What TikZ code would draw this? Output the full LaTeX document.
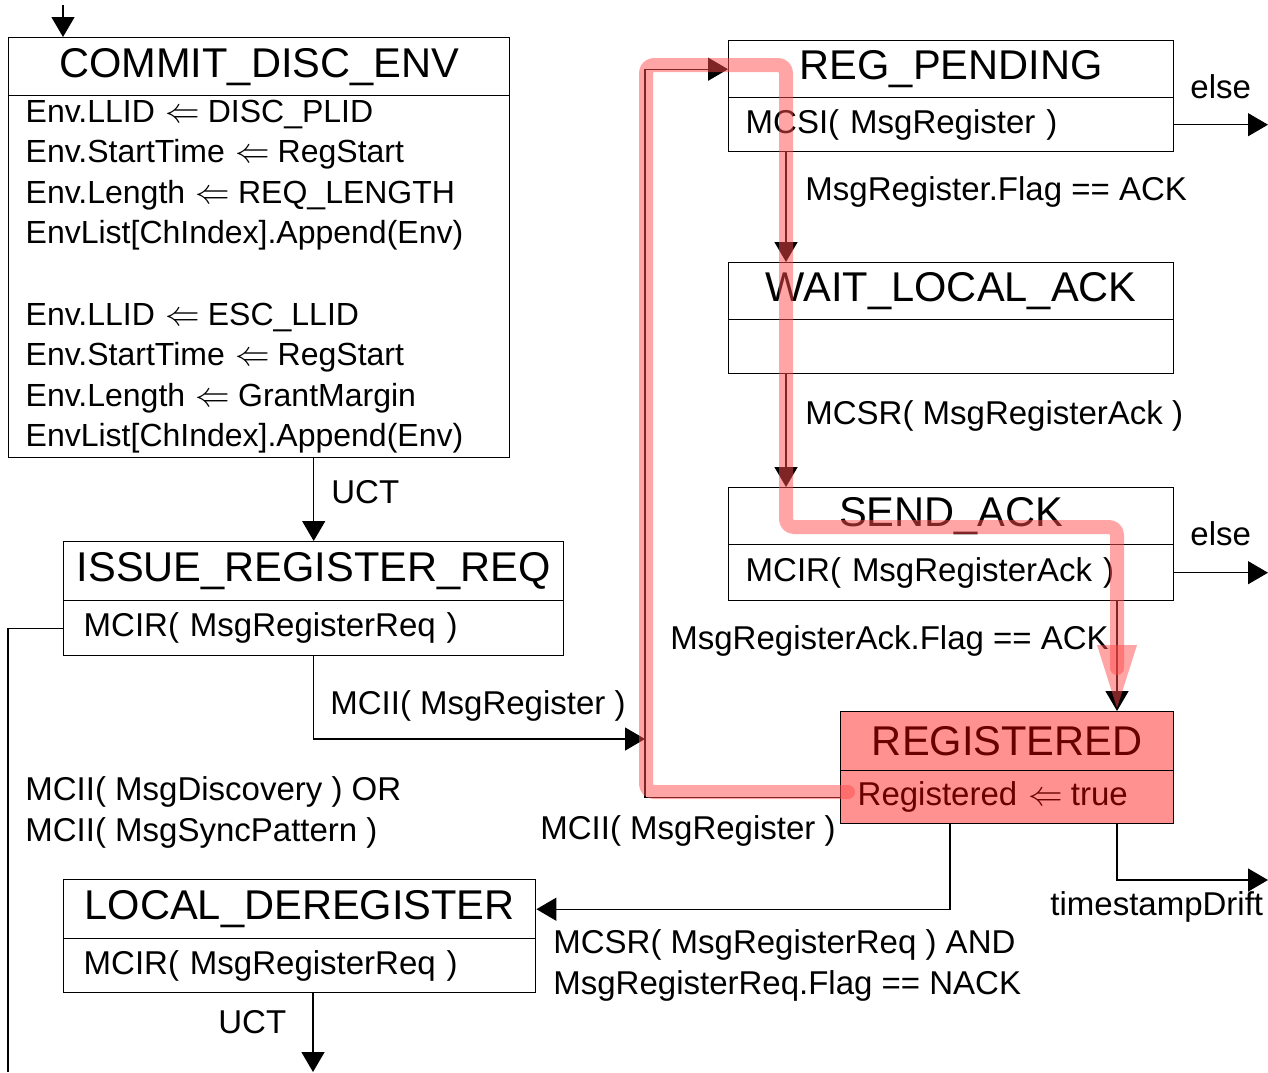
\documentclass[tikz,border=0pt]{standalone}
\usepackage{fontspec}
\setmainfont{Liberation Sans}
\usetikzlibrary{arrows.meta}
\definecolor{regfill}{RGB}{255,145,145}
\definecolor{regtext}{RGB}{105,0,0}
\definecolor{hlcol}{RGB}{255,75,75}
\begin{document}
\begin{tikzpicture}[x=0.5pt,y=-0.5pt,
  ttl/.style={draw, line width=0.7pt, anchor=north west, inner sep=0pt, font=\fontsize{20.8}{24}\selectfont},
  bdy/.style={draw, line width=0.7pt, anchor=north west, inner xsep=8.5pt, inner ysep=0pt, align=left, font=\fontsize{16.5}{20.3}\selectfont},
  lbl/.style={anchor=base west, inner sep=0pt, font=\fontsize{16.5}{20.3}\selectfont},
  arr/.style={line width=0.7pt, -{Triangle[length=10pt,width=11.5pt]}},
  ln/.style={line width=0.7pt},
  hl/.style={line width=7pt, draw=hlcol, opacity=0.5, rounded corners=4pt, line cap=round, line join=round}]
\useasboundingbox (0,0) rectangle (1268,1072);

% states
\node[ttl, minimum width=250.5pt, minimum height=29pt] (cdeT) at (8,37) {COMMIT\_DISC\_ENV};
\node[bdy, font=\fontsize{16}{20.3}\selectfont, text width=233.5pt, minimum height=181pt] (cdeB) at (8,95) {Env.LLID $\Leftarrow$\hspace{-1.5pt} DISC\_PLID\\
Env.StartTime $\Leftarrow$\hspace{-1.5pt} RegStart\\
Env.Length $\Leftarrow$\hspace{-1.5pt} REQ\_LENGTH\\
EnvList[ChIndex].Append(Env)\\[20.3pt]
Env.LLID $\Leftarrow$\hspace{-1.5pt} ESC\_LLID\\
Env.StartTime $\Leftarrow$\hspace{-1.5pt} RegStart\\
Env.Length $\Leftarrow$\hspace{-1.5pt} GrantMargin\\
EnvList[ChIndex].Append(Env)};

\node[ttl, minimum width=250pt, minimum height=29.5pt] (isT) at (63,541) {ISSUE\_REGISTER\_REQ};
\node[bdy, inner xsep=10pt, text width=230pt, minimum height=27.5pt] (isB) at (63,600) {MCIR( MsgRegisterReq )};

\node[ttl, minimum width=222.5pt, minimum height=28.5pt] (rpT) at (728,40) {REG\_PENDING};
\node[bdy, text width=205.5pt, minimum height=27pt] (rpB) at (728,97) {MCSI( MsgRegister )};

\node[ttl, minimum width=222.5pt, minimum height=28.5pt] (wlT) at (728,262) {WAIT\_LOCAL\_ACK};
\node[bdy, text width=205.5pt, minimum height=27pt] (wlB) at (728,319) {};

\node[ttl, minimum width=222.5pt, minimum height=28.5pt] (saT) at (728,487) {SEND\_ACK};
\node[bdy, text width=205.5pt, minimum height=28pt] (saB) at (728,544) {MCIR( MsgRegisterAck )};

\node[ttl, fill=regfill, text=regtext, minimum width=166.5pt, minimum height=29.5pt] (rgT) at (840,711) {REGISTERED};
\node[bdy, fill=regfill, text=regtext, text width=149.5pt, minimum height=26.5pt] (rgB) at (840,770) {Registered $\Leftarrow$\hspace{-1.5pt} true};

\node[ttl, minimum width=236pt, minimum height=29.5pt] (ldT) at (63,879) {LOCAL\_DEREGISTER};
\node[bdy, inner xsep=10pt, text width=216pt, minimum height=27pt] (ldB) at (63,938) {MCIR( MsgRegisterReq )};

% helper coordinates
\coordinate (start) at (63,5);
\coordinate (loopx) at (645,739);
\coordinate (colA) at (786,0);
\coordinate (colB) at (1117,0);
\coordinate (colC) at (950,0);
\coordinate (eA) at (1268,121);
\coordinate (eB) at (1268,572);
\coordinate (eC) at (1268,880);
\coordinate (eD) at (8,1072);
\coordinate (eE) at (313,1072);

% connectors
\draw[arr] (start) -- (start |- cdeT.north);
\draw[arr] (cdeB.south -| isT.north) -- (isT.north);
\draw[arr] (isB.south) |- (loopx);
\draw[arr] (rgB.west) -| (loopx) |- (rpT.west);
\draw[arr] (rpB.south -| colA) -- (wlT.north -| colA);
\draw[arr] (wlB.south -| colA) -- (saT.north -| colA);
\draw[arr] (saB.south -| colB) -- (rgT.north -| colB);
\draw[arr] (rgB.south -| colC) |- (ldT.east);
\draw[arr] (rpB.east) -- (rpB.east -| eA);
\draw[arr] (saB.east) -- (saB.east -| eB);
\draw[arr] (rgB.south -| colB) |- (eC);
\draw[ln] (isB.west) -| (eD);
\draw[arr] (ldB.south -| eE) -- (eE);

% labels
\node[lbl] (l1) at (331,503) {UCT};
\node[lbl] (l2) at (330,714) {MCII( MsgRegister )};
\node[lbl] (l3) at (805,200) {MsgRegister.Flag == ACK};
\node[lbl] (l4) at (805,424) {MCSR( MsgRegisterAck )};
\node[lbl] (l5) at (670,649) {MsgRegisterAck.Flag == ACK};
\node[lbl] (l6) at (1190,98) {else};
\node[lbl] (l7) at (1190,545) {else};
\node[lbl] (l8) at (1050,915) {timestampDrift};
\node[lbl] (l9) at (540,839) {MCII( MsgRegister )};
\node[lbl] (l10) at (25,800) {MCII( MsgDiscovery ) OR};
\node[lbl] (l11) at (25,841) {MCII( MsgSyncPattern )};
\node[lbl] (l12) at (553,953) {MCSR( MsgRegisterReq ) AND};
\node[lbl] (l13) at (553,994) {MsgRegisterReq.Flag == NACK};
\node[lbl] (l14) at (218,1033) {UCT};

% highlighted path
\draw[hl] (848,792) -- (646,792) -- (646,65) -- (786,65) -- (786,527) -- (1117,527) -- (1117,668);
\fill[hlcol, opacity=0.5] (1097,645) -- (1137,645) -- (1117,708) -- cycle;
\end{tikzpicture}
\end{document}
